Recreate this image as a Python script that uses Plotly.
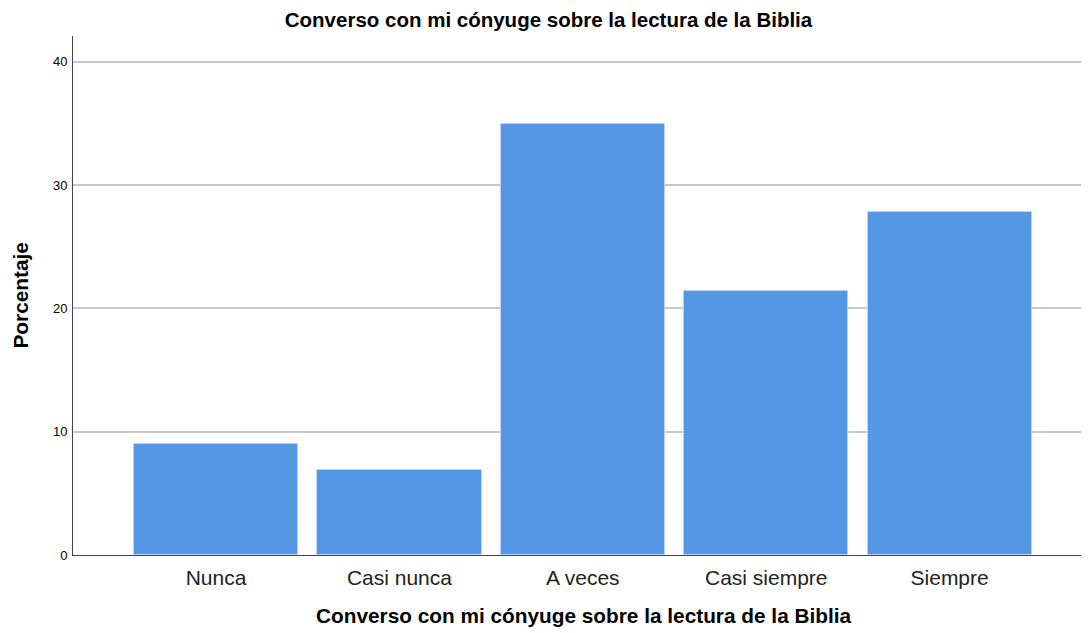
import plotly.graph_objects as go

categories = ["Nunca", "Casi nunca", "A veces", "Casi siempre", "Siempre"]
percentages = [9.0, 6.9, 35.0, 21.4, 27.8]
y_ticks = [0, 10, 20, 30, 40]

title_text = "Converso con mi cónyuge sobre la lectura de la Biblia"
y_title = "Porcentaje"

# The page body has an 8px margin, so the figure is 8px smaller than the window
W, H = 1081, 625
L, R, T, B = 65, 0, 28, 78
FONT = "Liberation Sans, Arial, sans-serif"

fig = go.Figure()
fig.add_trace(go.Bar(
    x=list(range(len(categories))),
    y=percentages,
    width=0.895,
    marker=dict(color="#5596E5", line=dict(color="#b8d3f5", width=1)),
    hoverinfo="skip",
))

fig.update_layout(
    width=W, height=H,
    margin=dict(l=L, r=R, t=T, b=B, pad=0),
    paper_bgcolor="white", plot_bgcolor="white",
    font=dict(family=FONT, color="#000000"),
    title=dict(text="<b>" + title_text + "</b>", x=0.5, xanchor="center",
               y=1 - 12 / H, yanchor="middle",
               font=dict(size=20.5, color="#000000")),
    showlegend=False,
    bargap=0,
    xaxis=dict(
        range=[-0.78, 4.76],
        tickmode="array",
        tickvals=list(range(len(categories))),
        ticktext=categories,
        tickfont=dict(size=21, color="#222222"),
        showgrid=False, zeroline=False,
        showline=True, linecolor="#444444", linewidth=1,
        ticks="outside", ticklen=4, tickcolor="rgba(0,0,0,0)",
        automargin=False,
    ),
    yaxis=dict(
        range=[0, 42.1],
        tickmode="array",
        tickvals=y_ticks,
        tickfont=dict(size=13, color="#000000"),
        showgrid=True, gridcolor="#c8c8c8", gridwidth=1.5,
        zeroline=False,
        showline=True, linecolor="#444444", linewidth=1,
        ticks="outside", ticklen=2, tickcolor="rgba(0,0,0,0)",
        automargin=False,
    ),
    annotations=[
        dict(text="<b>" + title_text + "</b>", xref="paper", yref="paper",
             x=0.5, y=0, xanchor="center", yanchor="middle",
             xshift=3, yshift=-60, showarrow=False,
             font=dict(size=20.8, color="#000000")),
        dict(text="<b>" + y_title + "</b>", xref="paper", yref="paper",
             x=0, y=0.5, xanchor="center", yanchor="middle", textangle=-90,
             xshift=-53, showarrow=False, font=dict(size=20.8, color="#000000")),
    ],
)

fig.write_html("out.html")
